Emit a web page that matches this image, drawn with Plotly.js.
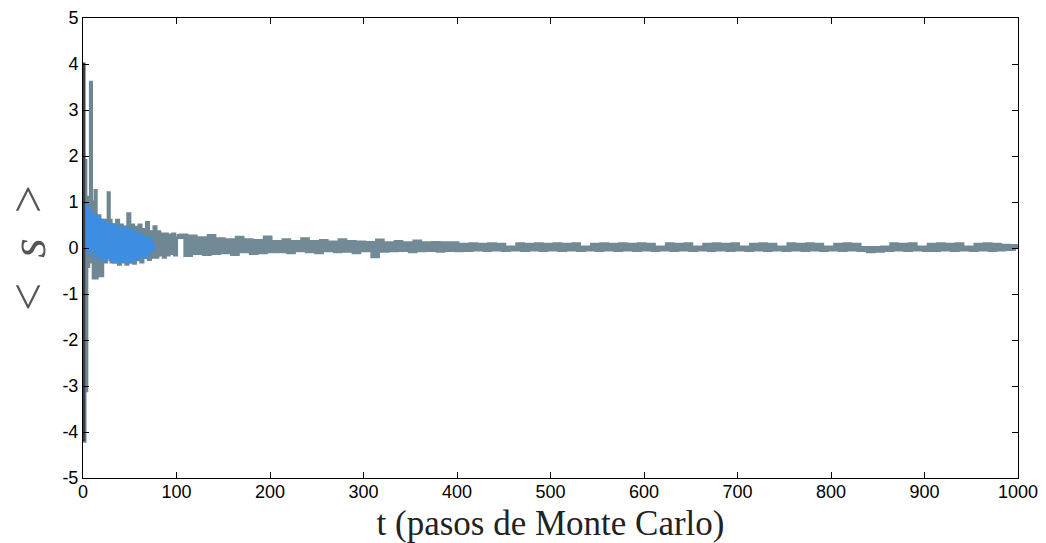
<!DOCTYPE html>
<html>
<head>
<meta charset="utf-8">
<script src="https://cdn.plot.ly/plotly-3.0.1.min.js"></script>
<style>html,body{margin:0;padding:0;background:#fff;}#chart{width:1046px;height:543px;}</style>
</head>
<body>
<div id="chart"></div>
<script>
// Monte Carlo steps and running mean <s>
const tEarly = [0,1,2,3,4,5,6,7,8,9,10,11,12,13,14,15,16,17,18,19,20,21,22,23,24,25,26,27,28,29,30];
const sEarly = [4.0,-4.2,1.9,-3.1,1.1,-0.4,0.9,-0.3,3.6,0.3,1.0,-0.65,0.8,1.25,-0.65,0.6,-0.6,0.7,-0.5,0.6,-0.6,0.5,-0.3,0.6,-0.3,0.5,0.1,1.2,-0.2,0.6,-0.3];

const tMid = [32,34,36,38,40,42,44,46,48,50,52,54,56,58,60,62,64,66,68,70,72,74,76,78,80,82,84,86,88,90,92,94,96,98,100];
const sMid = [0.5,-0.3,0.6,-0.35,0.5,-0.3,0.45,-0.35,0.74,-0.3,0.5,-0.33,0.45,-0.25,0.5,-0.3,0.4,-0.2,0.55,-0.25,0.35,-0.2,0.46,-0.2,0.35,-0.15,0.3,-0.2,0.3,-0.15,0.28,-0.12,0.3,-0.15,0.25];

const tLate = [100,105,110,115,120,125,130,135,140,145,150,155,160,165,170,175,180,185,190,195,200,
 205,210,215,220,225,230,235,240,245,250,255,260,265,270,275,280,285,290,295,300,
 305,310,315,320,325,330,335,340,345,350,355,360,365,370,375,380,385,390,395,400,
 405,410,415,420,425,430,435,440,445,450,455,460,465,470,475,480,485,490,495,500,
 505,510,515,520,525,530,535,540,545,550,555,560,565,570,575,580,585,590,595,600,
 605,610,615,620,625,630,635,640,645,650,655,660,665,670,675,680,685,690,695,700,
 705,710,715,720,725,730,735,740,745,750,755,760,765,770,775,780,785,790,795,800,
 805,810,815,820,825,830,835,840,845,850,855,860,865,870,875,880,885,890,895,900,
 905,910,915,920,925,930,935,940,945,950,955,960,965,970,975,980,985,990,995,1000];
const sLate = [0.25,0.26,-0.14,0.24,-0.1,0.2,-0.12,0.25,-0.1,0.18,-0.08,0.16,-0.12,0.21,-0.06,0.16,-0.1,0.14,-0.08,0.22,-0.06,
 0.12,-0.06,0.16,-0.08,0.12,-0.04,0.18,-0.06,0.12,-0.08,0.14,-0.04,0.11,-0.06,0.16,-0.05,0.12,-0.08,0.11,-0.04,
 0.1,-0.17,0.15,-0.05,0.09,-0.04,0.12,-0.03,0.09,-0.06,0.13,-0.04,0.09,-0.03,0.1,-0.05,0.09,-0.03,0.09,-0.04,
 0.06,-0.03,0.07,-0.02,0.06,-0.03,0.07,-0.02,0.06,-0.03,0.0,-0.02,0.07,-0.03,0.06,-0.02,0.07,-0.03,0.06,-0.02,
 0.07,-0.03,0.06,-0.02,0.07,-0.03,0.0,-0.02,0.06,-0.03,0.07,-0.02,0.06,-0.03,0.07,-0.02,0.06,-0.03,0.07,-0.02,
 0.06,-0.03,0.0,-0.02,0.07,-0.03,0.06,-0.02,0.07,-0.03,0.0,-0.02,0.06,-0.03,0.07,-0.02,0.06,-0.03,0.07,-0.02,
 0.0,-0.03,0.06,-0.02,0.07,-0.03,0.06,-0.02,0.0,-0.03,0.07,-0.02,0.06,-0.03,0.07,-0.02,0.06,-0.03,0.0,-0.02,
 0.06,-0.03,0.07,-0.02,0.06,-0.03,-0.01,-0.06,-0.01,-0.05,0.0,-0.03,0.07,-0.02,0.06,-0.03,0.07,-0.02,0.0,-0.03,
 0.06,-0.03,0.07,-0.02,0.06,-0.03,0.07,-0.02,0.0,-0.03,0.06,-0.02,0.07,-0.03,0.06,-0.02,0.04,-0.01,0.03,-0.01];

// second (blue) run, early transient
const tBlue = [3,5,7,9,11,13,15,17,19,21,23,25,27,29,31,33,35,37,39,41,43,45,47,49,51,53,55,57,59,61,63,65,67,69,71,73,75];
const sBlue = [0.9,-0.1,0.8,0.0,0.7,-0.2,0.65,-0.1,0.6,-0.25,0.55,-0.2,0.5,-0.25,0.5,-0.3,0.45,-0.3,0.4,-0.28,0.45,-0.25,0.35,-0.3,0.4,-0.2,0.3,-0.25,0.3,-0.15,0.25,-0.2,0.2,-0.1,0.2,-0.05,0.1];

const xTicks = [0,100,200,300,400,500,600,700,800,900,1000];
const yTicks = [-5,-4,-3,-2,-1,0,1,2,3,4,5];

const tHead = tEarly.concat(tMid);
const sHead = sEarly.concat(sMid);

const traces = [
  {x: tLate, y: sLate, type: 'scatter', mode: 'lines',
   line: {color: '#718a95', width: 5, shape: 'hv'}, hoverinfo: 'skip'},
  {x: tHead, y: sHead, type: 'scatter', mode: 'lines',
   line: {color: '#6f8793', width: 3.2, shape: 'hv'}, hoverinfo: 'skip'},
  {x: tBlue, y: sBlue, type: 'scatter', mode: 'lines',
   line: {color: '#3d8de2', width: 3.5, shape: 'hv'}, hoverinfo: 'skip'},
  {x: tEarly.slice(0, 2), y: sEarly.slice(0, 2), type: 'scatter', mode: 'lines',
   line: {color: '#3a3f44', width: 2.5, shape: 'hv'}, hoverinfo: 'skip'}
];

const axisCommon = {
  showline: true, linecolor: '#000', linewidth: 1, mirror: 'ticks',
  ticks: 'inside', ticklen: 6, tickcolor: '#000', tickwidth: 1,
  showgrid: false, zeroline: false, automargin: false,
  tickfont: {family: 'Liberation Sans, Arial, sans-serif', size: 18, color: '#000'}
};

const layout = {
  width: 1046, height: 543,
  margin: {l: 83, r: 28, t: 18, b: 65},
  paper_bgcolor: '#fff', plot_bgcolor: '#fff',
  showlegend: false,
  xaxis: Object.assign({}, axisCommon, {
    range: [0, 1000], tickmode: 'array', tickvals: xTicks, ticktext: xTicks.map(String),
    ticklabelstandoff: -3,
    title: {text: 't (pasos de Monte Carlo)', standoff: 9,
            font: {family: 'Liberation Serif, DejaVu Serif, serif', size: 35, color: '#222'}}
  }),
  yaxis: Object.assign({}, axisCommon, {
    range: [-5, 5], tickmode: 'array', tickvals: yTicks, ticktext: yTicks.map(String),
    title: {text: '<  <i>s</i>  >', standoff: 10,
            font: {family: 'Liberation Serif, DejaVu Serif, serif', size: 50, color: '#555'}}
  })
};

Plotly.newPlot('chart', traces, layout, {displayModeBar: false, staticPlot: true});
</script>
</body>
</html>
